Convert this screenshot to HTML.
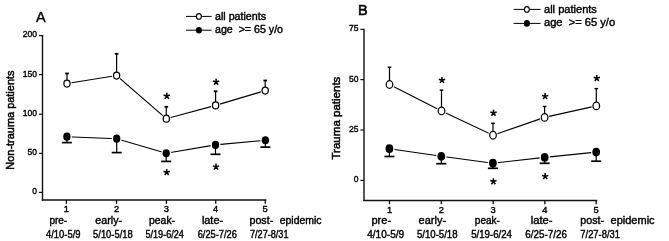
<!DOCTYPE html>
<html><head><meta charset="utf-8"><style>
html,body{margin:0;padding:0;background:#fff;}
svg{display:block;will-change:transform;font-family:"Liberation Sans", sans-serif;}
</style></head><body>
<svg width="669" height="241" viewBox="0 0 669 241">
<rect width="669" height="241" fill="#fff"/>
<line x1="42.5" y1="35" x2="42.5" y2="200.7" stroke="#111" stroke-width="1.4"/>
<line x1="41.8" y1="200" x2="266.4" y2="200" stroke="#111" stroke-width="1.5"/>
<line x1="38.9" y1="35.6" x2="42.5" y2="35.6" stroke="#111" stroke-width="1.2"/>
<text x="37.0" y="37.1" font-size="9.5" text-anchor="end" font-weight="normal" fill="#000" stroke="#000" stroke-width="0.4" textLength="14.26" lengthAdjust="spacingAndGlyphs" xml:space="preserve">200</text>
<line x1="38.9" y1="74.6" x2="42.5" y2="74.6" stroke="#111" stroke-width="1.2"/>
<text x="37.0" y="76.6" font-size="9.5" text-anchor="end" font-weight="normal" fill="#000" stroke="#000" stroke-width="0.4" textLength="14.26" lengthAdjust="spacingAndGlyphs" xml:space="preserve">150</text>
<line x1="38.9" y1="114.2" x2="42.5" y2="114.2" stroke="#111" stroke-width="1.2"/>
<text x="37.0" y="116.2" font-size="9.5" text-anchor="end" font-weight="normal" fill="#000" stroke="#000" stroke-width="0.4" textLength="14.26" lengthAdjust="spacingAndGlyphs" xml:space="preserve">100</text>
<line x1="38.9" y1="153.4" x2="42.5" y2="153.4" stroke="#111" stroke-width="1.2"/>
<text x="37.0" y="155.4" font-size="9.5" text-anchor="end" font-weight="normal" fill="#000" stroke="#000" stroke-width="0.4" textLength="9.51" lengthAdjust="spacingAndGlyphs" xml:space="preserve">50</text>
<line x1="38.9" y1="192.4" x2="42.5" y2="192.4" stroke="#111" stroke-width="1.2"/>
<text x="37.0" y="194.4" font-size="9.5" text-anchor="end" font-weight="normal" fill="#000" stroke="#000" stroke-width="0.4" textLength="4.75" lengthAdjust="spacingAndGlyphs" xml:space="preserve">0</text>
<line x1="66.4" y1="200" x2="66.4" y2="203.8" stroke="#111" stroke-width="1.3"/>
<text x="66.4" y="212.2" font-size="9.3" text-anchor="middle" font-weight="normal" fill="#000" stroke="#000" stroke-width="0.4" xml:space="preserve">1</text>
<line x1="116.5" y1="200" x2="116.5" y2="203.8" stroke="#111" stroke-width="1.3"/>
<text x="116.5" y="212.2" font-size="9.3" text-anchor="middle" font-weight="normal" fill="#000" stroke="#000" stroke-width="0.4" xml:space="preserve">2</text>
<line x1="166.4" y1="200" x2="166.4" y2="203.8" stroke="#111" stroke-width="1.3"/>
<text x="166.4" y="212.2" font-size="9.3" text-anchor="middle" font-weight="normal" fill="#000" stroke="#000" stroke-width="0.4" xml:space="preserve">3</text>
<line x1="215.7" y1="200" x2="215.7" y2="203.8" stroke="#111" stroke-width="1.3"/>
<text x="215.7" y="212.2" font-size="9.3" text-anchor="middle" font-weight="normal" fill="#000" stroke="#000" stroke-width="0.4" xml:space="preserve">4</text>
<line x1="265.2" y1="200" x2="265.2" y2="203.8" stroke="#111" stroke-width="1.3"/>
<text x="265.2" y="212.2" font-size="9.3" text-anchor="middle" font-weight="normal" fill="#000" stroke="#000" stroke-width="0.4" xml:space="preserve">5</text>
<text x="49.4" y="223.5" font-size="10.3" text-anchor="start" font-weight="normal" fill="#000" stroke="#000" stroke-width="0.4" textLength="17.8" lengthAdjust="spacingAndGlyphs" xml:space="preserve">pre-</text>
<text x="46" y="237.8" font-size="10.3" text-anchor="start" font-weight="normal" fill="#000" stroke="#000" stroke-width="0.4" textLength="34.5" lengthAdjust="spacingAndGlyphs" xml:space="preserve">4/10-5/9</text>
<text x="95.3" y="223.5" font-size="10.3" text-anchor="start" font-weight="normal" fill="#000" stroke="#000" stroke-width="0.4" textLength="26.8" lengthAdjust="spacingAndGlyphs" xml:space="preserve">early-</text>
<text x="93.1" y="237.8" font-size="10.3" text-anchor="start" font-weight="normal" fill="#000" stroke="#000" stroke-width="0.4" textLength="39.6" lengthAdjust="spacingAndGlyphs" xml:space="preserve">5/10-5/18</text>
<text x="149" y="223.5" font-size="10.3" text-anchor="start" font-weight="normal" fill="#000" stroke="#000" stroke-width="0.4" textLength="26.1" lengthAdjust="spacingAndGlyphs" xml:space="preserve">peak-</text>
<text x="145.4" y="237.8" font-size="10.3" text-anchor="start" font-weight="normal" fill="#000" stroke="#000" stroke-width="0.4" textLength="38.5" lengthAdjust="spacingAndGlyphs" xml:space="preserve">5/19-6/24</text>
<text x="201.9" y="223.5" font-size="10.3" text-anchor="start" font-weight="normal" fill="#000" stroke="#000" stroke-width="0.4" textLength="21.2" lengthAdjust="spacingAndGlyphs" xml:space="preserve">late-</text>
<text x="197.7" y="237.8" font-size="10.3" text-anchor="start" font-weight="normal" fill="#000" stroke="#000" stroke-width="0.4" textLength="39.1" lengthAdjust="spacingAndGlyphs" xml:space="preserve">6/25-7/26</text>
<text x="249.5" y="223.5" font-size="10.3" text-anchor="start" font-weight="normal" fill="#000" stroke="#000" stroke-width="0.4" textLength="23.7" lengthAdjust="spacingAndGlyphs" xml:space="preserve">post-</text>
<text x="279.7" y="223.5" font-size="10.3" text-anchor="start" font-weight="normal" fill="#000" stroke="#000" stroke-width="0.4" textLength="41.9" lengthAdjust="spacingAndGlyphs" xml:space="preserve">epidemic</text>
<text x="250" y="237.8" font-size="10.3" text-anchor="start" font-weight="normal" fill="#000" stroke="#000" stroke-width="0.4" textLength="38.5" lengthAdjust="spacingAndGlyphs" xml:space="preserve">7/27-8/31</text>
<text transform="translate(14.1,169.7) rotate(-90)" x="0" y="0" font-size="11.5" fill="#000" stroke="#000" stroke-width="0.5" textLength="99.2" lengthAdjust="spacingAndGlyphs">Non-trauma patients</text>
<text x="35.9" y="21.9" font-size="14.5" text-anchor="start" font-weight="normal" fill="#000" stroke="#000" stroke-width="0.4" style="stroke-width:0.35px" xml:space="preserve">A</text>
<line x1="186" y1="16.4" x2="211.5" y2="16.4" stroke="#000" stroke-width="1"/>
<ellipse cx="198.9" cy="16.4" rx="2.45" ry="2.8" fill="#fff" stroke="#000" stroke-width="1.1"/>
<text x="215" y="20.2" font-size="10.3" text-anchor="start" font-weight="normal" fill="#000" stroke="#000" stroke-width="0.4" textLength="51" lengthAdjust="spacingAndGlyphs" xml:space="preserve">all patients</text>
<line x1="186" y1="30.2" x2="211.5" y2="30.2" stroke="#000" stroke-width="1"/>
<ellipse cx="198.9" cy="30.2" rx="3.0" ry="3.3" fill="#000"/>
<text x="215" y="33.3" font-size="10.3" text-anchor="start" font-weight="normal" fill="#000" stroke="#000" stroke-width="0.4" textLength="68" lengthAdjust="spacingAndGlyphs" xml:space="preserve">age  &gt;= 65 y/o</text>
<polyline points="67.0,83.5 116.6,75.5 166.3,118.7 215.6,105.4 265.2,90.6" fill="none" stroke="#000" stroke-width="1.1"/>
<polyline points="66.9,136.7 116.7,138.7 166.2,153.3 215.5,144.9 265.4,140.3" fill="none" stroke="#000" stroke-width="1.1"/>
<ellipse cx="66.9" cy="136.7" rx="4.95" ry="5.3999999999999995" fill="#fff"/>
<ellipse cx="116.7" cy="138.7" rx="4.95" ry="5.3999999999999995" fill="#fff"/>
<ellipse cx="166.2" cy="153.3" rx="4.95" ry="5.3999999999999995" fill="#fff"/>
<ellipse cx="215.5" cy="144.9" rx="4.95" ry="5.3999999999999995" fill="#fff"/>
<ellipse cx="265.4" cy="140.3" rx="4.95" ry="5.3999999999999995" fill="#fff"/>
<ellipse cx="67.0" cy="83.5" rx="4.6" ry="5.0" fill="#fff"/>
<ellipse cx="116.6" cy="75.5" rx="4.6" ry="5.0" fill="#fff"/>
<ellipse cx="166.3" cy="118.7" rx="4.6" ry="5.0" fill="#fff"/>
<ellipse cx="215.6" cy="105.4" rx="4.6" ry="5.0" fill="#fff"/>
<ellipse cx="265.2" cy="90.6" rx="4.6" ry="5.0" fill="#fff"/>
<line x1="67" y1="83.5" x2="67" y2="73.3" stroke="#000" stroke-width="1.2"/>
<line x1="65.2" y1="73.5" x2="68.8" y2="73.5" stroke="#000" stroke-width="1.8"/>
<line x1="116.6" y1="75.5" x2="116.6" y2="53.6" stroke="#000" stroke-width="1.2"/>
<line x1="114.8" y1="53.8" x2="118.4" y2="53.8" stroke="#000" stroke-width="1.8"/>
<line x1="166.3" y1="118.7" x2="166.3" y2="106.6" stroke="#000" stroke-width="1.2"/>
<line x1="164.5" y1="106.8" x2="168.1" y2="106.8" stroke="#000" stroke-width="1.8"/>
<path d="M166.80 96.00L166.80 92.70M166.80 96.00L169.94 94.98M166.80 96.00L168.74 98.67M166.80 96.00L164.86 98.67M166.80 96.00L163.66 94.98" stroke="#000" stroke-width="1.55" stroke-linecap="butt" fill="none"/>
<line x1="215.6" y1="105.4" x2="215.6" y2="91.1" stroke="#000" stroke-width="1.2"/>
<line x1="213.8" y1="91.3" x2="217.4" y2="91.3" stroke="#000" stroke-width="1.8"/>
<path d="M216.10 82.00L216.10 78.70M216.10 82.00L219.24 80.98M216.10 82.00L218.04 84.67M216.10 82.00L214.16 84.67M216.10 82.00L212.96 80.98" stroke="#000" stroke-width="1.55" stroke-linecap="butt" fill="none"/>
<line x1="265.2" y1="90.6" x2="265.2" y2="80.3" stroke="#000" stroke-width="1.2"/>
<line x1="263.4" y1="80.5" x2="267" y2="80.5" stroke="#000" stroke-width="1.8"/>
<line x1="66.9" y1="136.7" x2="66.9" y2="142.4" stroke="#000" stroke-width="1.2"/>
<line x1="61.9" y1="142.6" x2="71.9" y2="142.6" stroke="#000" stroke-width="1.7"/>
<line x1="116.7" y1="138.7" x2="116.7" y2="152.4" stroke="#000" stroke-width="1.2"/>
<line x1="111.7" y1="152.6" x2="121.7" y2="152.6" stroke="#000" stroke-width="1.7"/>
<line x1="166.2" y1="153.3" x2="166.2" y2="161.2" stroke="#000" stroke-width="1.2"/>
<line x1="161.2" y1="161.4" x2="171.2" y2="161.4" stroke="#000" stroke-width="1.7"/>
<path d="M166.70 172.30L166.70 169.00M166.70 172.30L169.84 171.28M166.70 172.30L168.64 174.97M166.70 172.30L164.76 174.97M166.70 172.30L163.56 171.28" stroke="#000" stroke-width="1.55" stroke-linecap="butt" fill="none"/>
<line x1="215.5" y1="144.9" x2="215.5" y2="154.1" stroke="#000" stroke-width="1.2"/>
<line x1="210.5" y1="154.3" x2="220.5" y2="154.3" stroke="#000" stroke-width="1.7"/>
<path d="M216.00 166.90L216.00 163.60M216.00 166.90L219.14 165.88M216.00 166.90L217.94 169.57M216.00 166.90L214.06 169.57M216.00 166.90L212.86 165.88" stroke="#000" stroke-width="1.55" stroke-linecap="butt" fill="none"/>
<line x1="265.4" y1="140.3" x2="265.4" y2="146.9" stroke="#000" stroke-width="1.2"/>
<line x1="260.4" y1="147.1" x2="270.4" y2="147.1" stroke="#000" stroke-width="1.7"/>
<ellipse cx="67.0" cy="83.5" rx="3.1" ry="3.5" fill="#fff" stroke="#000" stroke-width="1.25"/>
<ellipse cx="116.6" cy="75.5" rx="3.1" ry="3.5" fill="#fff" stroke="#000" stroke-width="1.25"/>
<ellipse cx="166.3" cy="118.7" rx="3.1" ry="3.5" fill="#fff" stroke="#000" stroke-width="1.25"/>
<ellipse cx="215.6" cy="105.4" rx="3.1" ry="3.5" fill="#fff" stroke="#000" stroke-width="1.25"/>
<ellipse cx="265.2" cy="90.6" rx="3.1" ry="3.5" fill="#fff" stroke="#000" stroke-width="1.25"/>
<ellipse cx="66.9" cy="136.7" rx="3.65" ry="4.1" fill="#000"/>
<ellipse cx="116.7" cy="138.7" rx="3.65" ry="4.1" fill="#000"/>
<ellipse cx="166.2" cy="153.3" rx="3.65" ry="4.1" fill="#000"/>
<ellipse cx="215.5" cy="144.9" rx="3.65" ry="4.1" fill="#000"/>
<ellipse cx="265.4" cy="140.3" rx="3.65" ry="4.1" fill="#000"/>
<line x1="364" y1="28.8" x2="364" y2="201.1" stroke="#111" stroke-width="1.4"/>
<line x1="363.3" y1="200.4" x2="597.2" y2="200.4" stroke="#111" stroke-width="1.5"/>
<line x1="360.4" y1="29.4" x2="364" y2="29.4" stroke="#111" stroke-width="1.2"/>
<text x="358.6" y="31.4" font-size="9.5" text-anchor="end" font-weight="normal" fill="#000" stroke="#000" stroke-width="0.4" textLength="9.51" lengthAdjust="spacingAndGlyphs" xml:space="preserve">75</text>
<line x1="360.4" y1="79.6" x2="364" y2="79.6" stroke="#111" stroke-width="1.2"/>
<text x="358.6" y="81.6" font-size="9.5" text-anchor="end" font-weight="normal" fill="#000" stroke="#000" stroke-width="0.4" textLength="9.51" lengthAdjust="spacingAndGlyphs" xml:space="preserve">50</text>
<line x1="360.4" y1="130" x2="364" y2="130" stroke="#111" stroke-width="1.2"/>
<text x="358.6" y="132.0" font-size="9.5" text-anchor="end" font-weight="normal" fill="#000" stroke="#000" stroke-width="0.4" textLength="9.51" lengthAdjust="spacingAndGlyphs" xml:space="preserve">25</text>
<line x1="360.4" y1="180.4" x2="364" y2="180.4" stroke="#111" stroke-width="1.2"/>
<text x="358.6" y="182.4" font-size="9.5" text-anchor="end" font-weight="normal" fill="#000" stroke="#000" stroke-width="0.4" textLength="4.75" lengthAdjust="spacingAndGlyphs" xml:space="preserve">0</text>
<line x1="389.5" y1="200.4" x2="389.5" y2="204.2" stroke="#111" stroke-width="1.3"/>
<text x="389.5" y="213.0" font-size="9.3" text-anchor="middle" font-weight="normal" fill="#000" stroke="#000" stroke-width="0.4" xml:space="preserve">1</text>
<line x1="441.3" y1="200.4" x2="441.3" y2="204.2" stroke="#111" stroke-width="1.3"/>
<text x="441.3" y="213.0" font-size="9.3" text-anchor="middle" font-weight="normal" fill="#000" stroke="#000" stroke-width="0.4" xml:space="preserve">2</text>
<line x1="493.2" y1="200.4" x2="493.2" y2="204.2" stroke="#111" stroke-width="1.3"/>
<text x="493.2" y="213.0" font-size="9.3" text-anchor="middle" font-weight="normal" fill="#000" stroke="#000" stroke-width="0.4" xml:space="preserve">3</text>
<line x1="544.8" y1="200.4" x2="544.8" y2="204.2" stroke="#111" stroke-width="1.3"/>
<text x="544.8" y="213.0" font-size="9.3" text-anchor="middle" font-weight="normal" fill="#000" stroke="#000" stroke-width="0.4" xml:space="preserve">4</text>
<line x1="596.2" y1="200.4" x2="596.2" y2="204.2" stroke="#111" stroke-width="1.3"/>
<text x="596.2" y="213.0" font-size="9.3" text-anchor="middle" font-weight="normal" fill="#000" stroke="#000" stroke-width="0.4" xml:space="preserve">5</text>
<text x="371.5" y="224.0" font-size="10.5" text-anchor="start" font-weight="normal" fill="#000" stroke="#000" stroke-width="0.4" textLength="19.6" lengthAdjust="spacingAndGlyphs" xml:space="preserve">pre-</text>
<text x="367.2" y="238.3" font-size="10.5" text-anchor="start" font-weight="normal" fill="#000" stroke="#000" stroke-width="0.4" textLength="37.0" lengthAdjust="spacingAndGlyphs" xml:space="preserve">4/10-5/9</text>
<text x="418.6" y="224.0" font-size="10.5" text-anchor="start" font-weight="normal" fill="#000" stroke="#000" stroke-width="0.4" textLength="27.5" lengthAdjust="spacingAndGlyphs" xml:space="preserve">early-</text>
<text x="416.9" y="238.3" font-size="10.5" text-anchor="start" font-weight="normal" fill="#000" stroke="#000" stroke-width="0.4" textLength="40.7" lengthAdjust="spacingAndGlyphs" xml:space="preserve">5/10-5/18</text>
<text x="474.8" y="224.0" font-size="10.5" text-anchor="start" font-weight="normal" fill="#000" stroke="#000" stroke-width="0.4" textLength="25.1" lengthAdjust="spacingAndGlyphs" xml:space="preserve">peak-</text>
<text x="471.2" y="238.3" font-size="10.5" text-anchor="start" font-weight="normal" fill="#000" stroke="#000" stroke-width="0.4" textLength="40.7" lengthAdjust="spacingAndGlyphs" xml:space="preserve">5/19-6/24</text>
<text x="530.8" y="224.0" font-size="10.5" text-anchor="start" font-weight="normal" fill="#000" stroke="#000" stroke-width="0.4" textLength="21.7" lengthAdjust="spacingAndGlyphs" xml:space="preserve">late-</text>
<text x="525.3" y="238.3" font-size="10.5" text-anchor="start" font-weight="normal" fill="#000" stroke="#000" stroke-width="0.4" textLength="41.6" lengthAdjust="spacingAndGlyphs" xml:space="preserve">6/25-7/26</text>
<text x="580.3" y="224.0" font-size="10.5" text-anchor="start" font-weight="normal" fill="#000" stroke="#000" stroke-width="0.4" textLength="23.7" lengthAdjust="spacingAndGlyphs" xml:space="preserve">post-</text>
<text x="610.6" y="224.0" font-size="10.5" text-anchor="start" font-weight="normal" fill="#000" stroke="#000" stroke-width="0.4" textLength="44.0" lengthAdjust="spacingAndGlyphs" xml:space="preserve">epidemic</text>
<text x="580.3" y="238.3" font-size="10.5" text-anchor="start" font-weight="normal" fill="#000" stroke="#000" stroke-width="0.4" textLength="39.7" lengthAdjust="spacingAndGlyphs" xml:space="preserve">7/27-8/31</text>
<text transform="translate(339.8,159.5) rotate(-90)" x="0" y="0" font-size="11.8" fill="#000" stroke="#000" stroke-width="0.5" textLength="82.9" lengthAdjust="spacingAndGlyphs">Trauma patients</text>
<text x="357.9" y="14.8" font-size="14.5" text-anchor="start" font-weight="normal" fill="#000" stroke="#000" stroke-width="0.4" style="stroke-width:0.55px" xml:space="preserve">B</text>
<line x1="513.6" y1="9.4" x2="540.5" y2="9.4" stroke="#000" stroke-width="1"/>
<ellipse cx="526.9" cy="9.4" rx="2.45" ry="2.8" fill="#fff" stroke="#000" stroke-width="1.1"/>
<text x="544" y="13" font-size="10.6" text-anchor="start" font-weight="normal" fill="#000" stroke="#000" stroke-width="0.4" textLength="52.9" lengthAdjust="spacingAndGlyphs" xml:space="preserve">all patients</text>
<line x1="513.6" y1="23.4" x2="540.5" y2="23.4" stroke="#000" stroke-width="1"/>
<ellipse cx="526.9" cy="23.4" rx="3.0" ry="3.3" fill="#000"/>
<text x="544" y="26.3" font-size="10.6" text-anchor="start" font-weight="normal" fill="#000" stroke="#000" stroke-width="0.4" textLength="71.1" lengthAdjust="spacingAndGlyphs" xml:space="preserve">age  &gt;= 65 y/o</text>
<polyline points="389.5,84.5 441.5,110.9 493.0,135.2 544.6,117.4 596.3,105.9" fill="none" stroke="#000" stroke-width="1.1"/>
<polyline points="389.4,148.7 441.3,156.3 492.9,163.2 544.7,157.4 596.2,152.1" fill="none" stroke="#000" stroke-width="1.1"/>
<ellipse cx="389.4" cy="148.7" rx="5.15" ry="5.6499999999999995" fill="#fff"/>
<ellipse cx="441.3" cy="156.3" rx="5.15" ry="5.6499999999999995" fill="#fff"/>
<ellipse cx="492.9" cy="163.2" rx="5.15" ry="5.6499999999999995" fill="#fff"/>
<ellipse cx="544.7" cy="157.4" rx="5.15" ry="5.6499999999999995" fill="#fff"/>
<ellipse cx="596.2" cy="152.1" rx="5.15" ry="5.6499999999999995" fill="#fff"/>
<ellipse cx="389.5" cy="84.5" rx="4.8" ry="5.3" fill="#fff"/>
<ellipse cx="441.5" cy="110.9" rx="4.8" ry="5.3" fill="#fff"/>
<ellipse cx="493.0" cy="135.2" rx="4.8" ry="5.3" fill="#fff"/>
<ellipse cx="544.6" cy="117.4" rx="4.8" ry="5.3" fill="#fff"/>
<ellipse cx="596.3" cy="105.9" rx="4.8" ry="5.3" fill="#fff"/>
<line x1="389.5" y1="84.5" x2="389.5" y2="67" stroke="#000" stroke-width="1.2"/>
<line x1="387.7" y1="67.2" x2="391.3" y2="67.2" stroke="#000" stroke-width="1.4"/>
<line x1="441.5" y1="110.9" x2="441.5" y2="89.9" stroke="#000" stroke-width="1.2"/>
<line x1="439.7" y1="90.1" x2="443.3" y2="90.1" stroke="#000" stroke-width="1.4"/>
<path d="M442.00 80.20L442.00 76.90M442.00 80.20L445.14 79.18M442.00 80.20L443.94 82.87M442.00 80.20L440.06 82.87M442.00 80.20L438.86 79.18" stroke="#000" stroke-width="1.55" stroke-linecap="butt" fill="none"/>
<line x1="493" y1="135.2" x2="493" y2="123.1" stroke="#000" stroke-width="1.2"/>
<line x1="491.2" y1="123.3" x2="494.8" y2="123.3" stroke="#000" stroke-width="1.4"/>
<path d="M493.50 113.00L493.50 109.70M493.50 113.00L496.64 111.98M493.50 113.00L495.44 115.67M493.50 113.00L491.56 115.67M493.50 113.00L490.36 111.98" stroke="#000" stroke-width="1.55" stroke-linecap="butt" fill="none"/>
<line x1="544.6" y1="117.4" x2="544.6" y2="106.3" stroke="#000" stroke-width="1.2"/>
<line x1="542.8" y1="106.5" x2="546.4" y2="106.5" stroke="#000" stroke-width="1.4"/>
<path d="M545.10 96.40L545.10 93.10M545.10 96.40L548.24 95.38M545.10 96.40L547.04 99.07M545.10 96.40L543.16 99.07M545.10 96.40L541.96 95.38" stroke="#000" stroke-width="1.55" stroke-linecap="butt" fill="none"/>
<line x1="596.3" y1="105.9" x2="596.3" y2="88.4" stroke="#000" stroke-width="1.2"/>
<line x1="594.5" y1="88.6" x2="598.1" y2="88.6" stroke="#000" stroke-width="1.4"/>
<path d="M596.80 78.30L596.80 75.00M596.80 78.30L599.94 77.28M596.80 78.30L598.74 80.97M596.80 78.30L594.86 80.97M596.80 78.30L593.66 77.28" stroke="#000" stroke-width="1.55" stroke-linecap="butt" fill="none"/>
<line x1="389.4" y1="148.7" x2="389.4" y2="156.3" stroke="#000" stroke-width="1.2"/>
<line x1="384.4" y1="156.5" x2="394.4" y2="156.5" stroke="#000" stroke-width="1.7"/>
<line x1="441.3" y1="156.3" x2="441.3" y2="163.5" stroke="#000" stroke-width="1.2"/>
<line x1="436.3" y1="163.7" x2="446.3" y2="163.7" stroke="#000" stroke-width="1.7"/>
<line x1="492.9" y1="163.2" x2="492.9" y2="168.1" stroke="#000" stroke-width="1.2"/>
<line x1="487.9" y1="168.3" x2="497.9" y2="168.3" stroke="#000" stroke-width="1.7"/>
<path d="M493.40 181.60L493.40 178.30M493.40 181.60L496.54 180.58M493.40 181.60L495.34 184.27M493.40 181.60L491.46 184.27M493.40 181.60L490.26 180.58" stroke="#000" stroke-width="1.55" stroke-linecap="butt" fill="none"/>
<line x1="544.7" y1="157.4" x2="544.7" y2="163.1" stroke="#000" stroke-width="1.2"/>
<line x1="539.7" y1="163.3" x2="549.7" y2="163.3" stroke="#000" stroke-width="1.7"/>
<path d="M545.20 176.40L545.20 173.10M545.20 176.40L548.34 175.38M545.20 176.40L547.14 179.07M545.20 176.40L543.26 179.07M545.20 176.40L542.06 175.38" stroke="#000" stroke-width="1.55" stroke-linecap="butt" fill="none"/>
<line x1="596.2" y1="152.1" x2="596.2" y2="161" stroke="#000" stroke-width="1.2"/>
<line x1="591.2" y1="161.2" x2="601.2" y2="161.2" stroke="#000" stroke-width="1.7"/>
<ellipse cx="389.5" cy="84.5" rx="3.3" ry="3.8" fill="#fff" stroke="#000" stroke-width="1.25"/>
<ellipse cx="441.5" cy="110.9" rx="3.3" ry="3.8" fill="#fff" stroke="#000" stroke-width="1.25"/>
<ellipse cx="493.0" cy="135.2" rx="3.3" ry="3.8" fill="#fff" stroke="#000" stroke-width="1.25"/>
<ellipse cx="544.6" cy="117.4" rx="3.3" ry="3.8" fill="#fff" stroke="#000" stroke-width="1.25"/>
<ellipse cx="596.3" cy="105.9" rx="3.3" ry="3.8" fill="#fff" stroke="#000" stroke-width="1.25"/>
<ellipse cx="389.4" cy="148.7" rx="3.85" ry="4.35" fill="#000"/>
<ellipse cx="441.3" cy="156.3" rx="3.85" ry="4.35" fill="#000"/>
<ellipse cx="492.9" cy="163.2" rx="3.85" ry="4.35" fill="#000"/>
<ellipse cx="544.7" cy="157.4" rx="3.85" ry="4.35" fill="#000"/>
<ellipse cx="596.2" cy="152.1" rx="3.85" ry="4.35" fill="#000"/>
</svg>
</body></html>
